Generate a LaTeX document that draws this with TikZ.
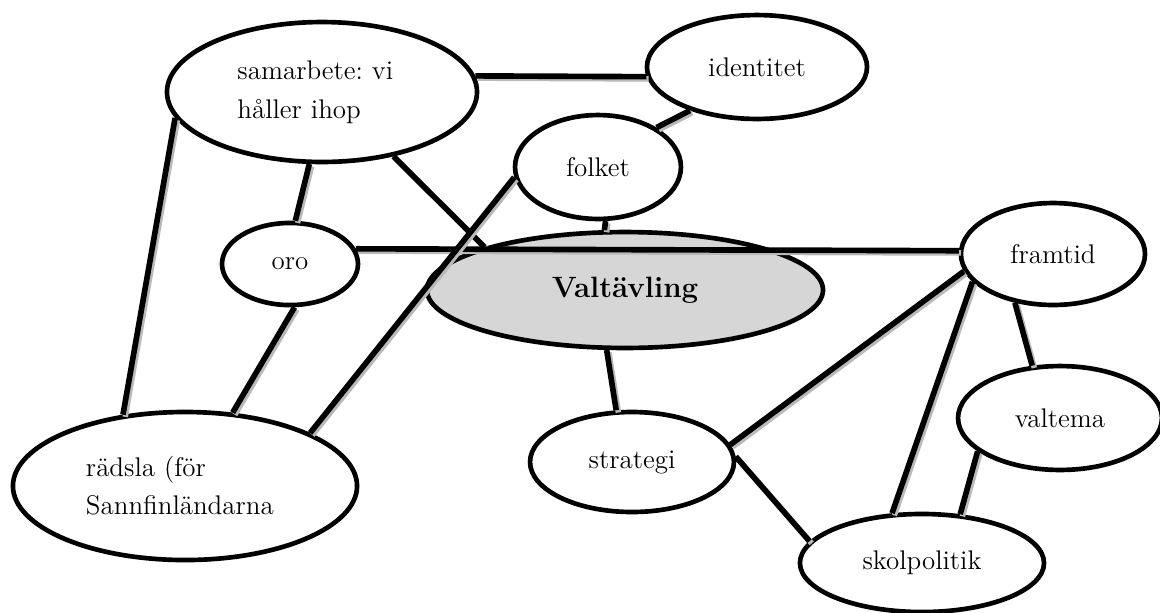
\documentclass[tikz,border=0pt]{standalone}
\usepackage{tikz}
\usetikzlibrary{shapes.geometric}
\tikzset{bubble/.style={ellipse, draw, line width=1.9pt, fill=white, inner sep=0pt, font=\fontsize{11}{16}\selectfont}}
\tikzset{link/.style={line width=2.3pt, preaction={draw=gray!55, line width=2.3pt, transform canvas={xshift=0.9pt, yshift=-0.9pt}}}}
\frenchspacing

\begin{document}
\begin{tikzpicture}[x=0.408pt, y=-0.408pt]
\useasboundingbox (0,0) rectangle (1160,612);

%Ellipses
\node[bubble, minimum width=126.5pt, minimum height=57.1pt, text width=69pt, align=left] (samarbete) at (322,92) {samarbete: vi\\h\aa ller ihop};
\node[bubble, minimum width=89.8pt, minimum height=42.4pt] (identitet) at (757,67) {identitet};
\node[bubble, minimum width=67.7pt, minimum height=42.4pt] (folket) at (598,167) {folket};
\node[bubble, minimum width=55.5pt, minimum height=33.5pt] (oro) at (290,264) {oro};
\node[bubble, minimum width=161.6pt, minimum height=47.3pt, fill=black!16, font=\fontsize{12}{15}\selectfont\bfseries] (valtavling) at (625,290) {Valtävling};
\node[bubble, minimum width=75.1pt, minimum height=41.6pt] (framtid) at (1053,254) {framtid};
\node[bubble, minimum width=83.2pt, minimum height=42.4pt] (valtema) at (1060,418) {valtema};
\node[bubble, minimum width=83.2pt, minimum height=40.8pt] (strategi) at (632,462) {strategi};
\node[bubble, minimum width=99.6pt, minimum height=40pt] (skolpolitik) at (922,563) {skolpolitik};
\node[bubble, minimum width=140.4pt, minimum height=60.4pt, text width=80.8pt, align=left, font=\fontsize{11}{15.5}\selectfont] (radsla) at (185,486) {rädsla (för\\Sannfinländarna};

%Connecting Lines
\draw[link] (samarbete.6) -- (identitet.185);
\draw[link] (identitet.213) -- (folket.34);
\draw[link] (samarbete.260) -- (oro.83);
\draw[link] (samarbete.190) -- (radsla.131);
\draw[link] (samarbete.-42) -- (valtavling.163);
\draw[link] (oro.13) -- (framtid.178);
\draw[link] (oro.-84) -- (radsla.57);
\draw[link] (folket.278) -- (valtavling.109);
\draw[link] (folket.187) -- (radsla.23);
\draw[link] (valtavling.253) -- (strategi.107);
\draw[link] (strategi.10) -- (framtid.191);
\draw[link] (strategi.3) -- (skolpolitik.169);
\draw[link] (framtid.232) -- (valtema.118);
\draw[link] (framtid.199) -- (skolpolitik.121);
\draw[link] (valtema.202) -- (skolpolitik.52);

\end{tikzpicture}
\end{document}
